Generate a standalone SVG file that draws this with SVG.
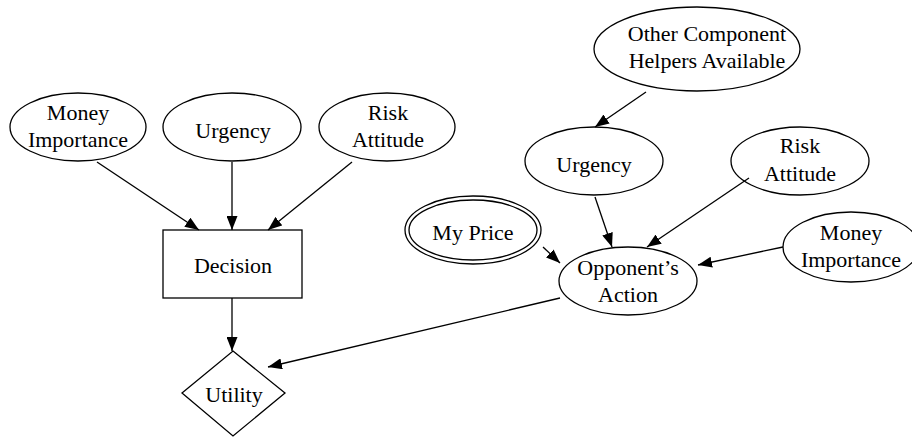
<svg xmlns="http://www.w3.org/2000/svg" width="912" height="437" viewBox="0 0 912 437">
<style>
.n{fill:none;stroke:#000;stroke-width:1.3}
.e{stroke:#000;stroke-width:1.3;fill:none;marker-end:url(#a)}
</style>
<defs>
<marker id="a" markerUnits="userSpaceOnUse" markerWidth="14" markerHeight="11" refX="14" refY="5.5" orient="auto">
<path d="M0,0 L14,5.5 L0,11 z" fill="#000"/>
</marker>
</defs>
<rect width="912" height="437" fill="#fff"/>
<g id="connectors">
<line class="e" x1="97" y1="162" x2="199" y2="230"/>
<line class="e" x1="232" y1="162" x2="232" y2="230"/>
<line class="e" x1="352" y1="162" x2="268" y2="230"/>
<line class="e" x1="232" y1="298" x2="232" y2="351"/>
<line class="e" x1="560" y1="298" x2="268" y2="367"/>
<line class="e" x1="646" y1="92" x2="595" y2="127"/>
<line class="e" x1="595" y1="197" x2="612" y2="247"/>
<line class="e" x1="749" y1="178" x2="647" y2="247"/>
<line class="e" x1="543" y1="247" x2="560" y2="263"/>
<line class="e" x1="783" y1="247" x2="698" y2="265"/>
</g>
<g font-family="Liberation Serif, serif" font-size="22" text-anchor="middle" fill="#000">
<g id="money-left">
<ellipse class="n" cx="78" cy="127" rx="68" ry="34"/>
<text x="78" y="120">Money</text>
<text x="78" y="147">Importance</text>
</g>
<g id="urgency-left">
<ellipse class="n" cx="232" cy="127" rx="69" ry="34"/>
<text x="233" y="138">Urgency</text>
</g>
<g id="risk-left">
<ellipse class="n" cx="387" cy="127" rx="68" ry="34"/>
<text x="388" y="120">Risk</text>
<text x="388" y="147">Attitude</text>
</g>
<g id="decision">
<rect class="n" x="163" y="230" width="139" height="68"/>
<text x="233" y="273">Decision</text>
</g>
<g id="utility">
<polygon class="n" points="233,351 285,393 233,436 182,393"/>
<text x="234" y="402">Utility</text>
</g>
<g id="other-helpers">
<ellipse class="n" cx="697" cy="49" rx="103" ry="42"/>
<text x="707" y="41">Other Component</text>
<text x="707" y="68">Helpers Available</text>
</g>
<g id="urgency-right">
<ellipse class="n" cx="594" cy="161" rx="69" ry="34"/>
<text x="594" y="172">Urgency</text>
</g>
<g id="risk-right">
<ellipse class="n" cx="800" cy="161" rx="69" ry="34"/>
<text x="800" y="153">Risk</text>
<text x="800" y="181">Attitude</text>
</g>
<g id="my-price">
<ellipse class="n" cx="473" cy="230" rx="68" ry="34"/>
<ellipse class="n" cx="473" cy="230" rx="64" ry="30"/>
<text x="473" y="240">My Price</text>
</g>
<g id="opponent-action">
<ellipse class="n" cx="628" cy="281" rx="69" ry="34"/>
<text x="628" y="275">Opponent’s</text>
<text x="628" y="302">Action</text>
</g>
<g id="money-right">
<ellipse class="n" cx="851" cy="247" rx="68" ry="35"/>
<text x="851" y="240">Money</text>
<text x="851" y="267">Importance</text>
</g>
</g>
</svg>
